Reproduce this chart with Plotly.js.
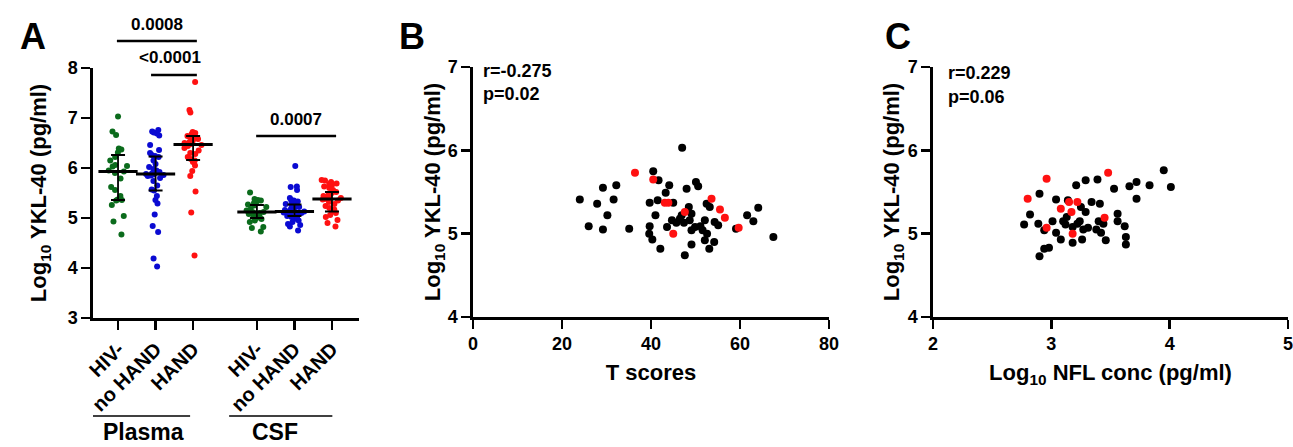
<!DOCTYPE html>
<html>
<head>
<meta charset="utf-8">
<script src="https://cdn.plot.ly/plotly-3.0.1.min.js"></script>
<style>html,body{margin:0;padding:0;background:#fff;}#chart{width:1293px;height:447px;}</style>
</head>
<body>
<div id="chart"></div>
<script>
// ---------------- DATA ----------------
const groupLabels = ['HIV-', 'no HAND', 'HAND', 'HIV-', 'no HAND', 'HAND'];
const sampleLabels = ['Plasma', 'CSF'];

const plasmaHIVneg = [7.03, 6.73, 6.66, 6.39, 6.37, 6.31, 6.22, 6.15, 6.06, 6.04, 6.03, 5.95, 5.93, 5.90, 5.79, 5.62, 5.56, 5.44, 5.37, 5.36, 5.35, 5.26, 5.04, 4.93, 4.67];
const plasmaNoHAND = [6.76, 6.73, 6.71, 6.69, 6.65, 6.46, 6.36, 6.30, 6.26, 6.24, 6.22, 6.15, 6.08, 6.02, 5.98, 5.95, 5.92, 5.90, 5.89, 5.88, 5.87, 5.86, 5.85, 5.84, 5.80, 5.74, 5.65, 5.57, 5.55, 5.44, 5.36, 5.29, 5.07, 4.84, 4.72, 4.19, 4.03];
const plasmaHAND = [7.72, 7.16, 7.11, 6.72, 6.70, 6.68, 6.66, 6.64, 6.62, 6.60, 6.58, 6.55, 6.52, 6.50, 6.48, 6.46, 6.44, 6.40, 6.35, 6.30, 6.28, 6.22, 6.18, 6.15, 6.12, 6.05, 5.94, 5.84, 5.53, 5.11, 4.25];
const csfHIVneg = [5.51, 5.38, 5.36, 5.35, 5.33, 5.30, 5.27, 5.25, 5.22, 5.18, 5.15, 5.12, 5.11, 5.10, 5.08, 5.05, 5.02, 5.00, 4.98, 4.95, 4.92, 4.82, 4.80, 4.73];
const csfNoHAND = [6.04, 5.63, 5.62, 5.56, 5.40, 5.36, 5.35, 5.33, 5.31, 5.30, 5.28, 5.26, 5.24, 5.22, 5.20, 5.18, 5.16, 5.14, 5.13, 5.12, 5.11, 5.10, 5.08, 5.06, 5.04, 5.02, 5.00, 4.98, 4.95, 4.92, 4.88, 4.86, 4.83, 4.75];
const csfHAND = [5.76, 5.75, 5.72, 5.69, 5.68, 5.66, 5.63, 5.60, 5.56, 5.52, 5.50, 5.47, 5.44, 5.42, 5.40, 5.38, 5.37, 5.35, 5.32, 5.28, 5.24, 5.20, 5.17, 5.13, 5.10, 5.06, 5.02, 4.96, 4.90, 4.83];

const groupMedian = [5.93, 5.88, 6.47, 5.12, 5.13, 5.38];
const groupQ1     = [5.36, 5.55, 6.16, 5.00, 5.04, 5.13];
const groupQ3     = [6.26, 6.23, 6.64, 5.26, 5.27, 5.52];

const pValuesA = ['0.0008', '<0.0001', '0.0007'];

// Panel B: T scores vs Log10 YKL-40
const tScoreBlack = [24.0, 26.0, 27.9, 29.2, 29.2, 30.2, 31.6, 32.2, 35.1, 39.7, 39.7, 39.6, 40.3, 40.5, 41.0, 41.7, 41.5, 42.1, 43.3, 44.1, 43.6, 45.0, 44.7, 45.7, 46.5, 47.0, 46.9, 47.4, 48.0, 47.6, 48.5, 48.7, 49.1, 49.1, 49.1, 49.9, 50.1, 50.6, 51.1, 51.6, 52.1, 52.1, 52.5, 52.6, 53.1, 53.2, 54.2, 54.3, 55.1, 59.1, 61.6, 63.0, 64.1, 67.5];
const yklBBlack   = [5.41, 5.09, 5.36, 5.55, 5.05, 5.22, 5.41, 5.58, 5.06, 5.37, 5.09, 5.00, 4.93, 5.75, 5.22, 5.64, 5.40, 4.82, 5.49, 5.58, 5.08, 5.37, 5.16, 5.13, 5.18, 6.03, 5.22, 5.13, 5.54, 4.74, 5.32, 5.16, 5.24, 5.04, 4.87, 5.08, 5.62, 5.57, 5.09, 5.04, 5.16, 4.92, 5.36, 5.00, 4.82, 5.32, 4.90, 5.14, 5.10, 5.06, 5.22, 5.15, 5.31, 4.96];
const tScoreRed = [36.4, 40.5, 43.1, 43.9, 45.0, 47.6, 53.6, 55.5, 56.6, 59.7];
const yklBRed   = [5.73, 5.65, 5.37, 5.37, 5.00, 5.26, 5.42, 5.29, 5.19, 5.07];
const statsB = ['r=-0.275', 'p=0.02'];

// Panel C: Log10 NFL vs Log10 YKL-40
const nflBlack = [2.77, 2.82, 2.90, 2.89, 2.90, 2.94, 2.98, 2.94, 3.01, 3.04, 3.04, 3.08, 3.10, 3.12, 3.14, 3.13, 3.18, 3.18, 3.21, 3.22, 3.24, 3.25, 3.26, 3.27, 3.29, 3.29, 3.31, 3.34, 3.39, 3.38, 3.40, 3.41, 3.42, 3.44, 3.46, 3.53, 3.56, 3.56, 3.62, 3.63, 3.63, 3.66, 3.72, 3.72, 3.83, 3.95, 4.01];
const yklCBlack = [5.11, 5.23, 5.48, 5.12, 4.73, 4.82, 4.83, 5.04, 5.15, 5.41, 5.01, 4.93, 5.15, 5.11, 5.40, 5.20, 4.89, 5.08, 5.58, 5.12, 5.15, 5.32, 4.93, 5.05, 5.64, 5.26, 5.07, 5.38, 5.65, 5.05, 5.15, 5.36, 5.01, 5.12, 4.92, 5.54, 5.24, 5.15, 5.09, 4.96, 4.87, 5.57, 5.62, 5.42, 5.58, 5.76, 5.56];
const nflRed  = [2.80, 2.96, 2.96, 3.08, 3.15, 3.17, 3.22, 3.18, 3.45, 3.48];
const yklCRed = [5.42, 5.66, 5.07, 5.30, 5.38, 5.26, 5.38, 5.00, 5.19, 5.73];
const statsC = ['r=0.229', 'p=0.06'];

// ---------------- LAYOUT HELPERS ----------------
const W = 1293, H = 447;
const fx = p => p / W;
const fy = p => 1 - p / H;
const FONT = 'Liberation Sans, Arial, sans-serif';
const groupPos = [1, 2, 3, 4.7, 5.7, 6.7];
const groupColors = ['#0b6b1c', '#0a0ad2', '#ff1111', '#0b6b1c', '#0a0ad2', '#ff1111'];
const groupData = [plasmaHIVneg, plasmaNoHAND, plasmaHAND, csfHIVneg, csfNoHAND, csfHAND];

const traces = [];
groupData.forEach((vals, i) => {
  traces.push({
    type: 'box', y: vals, x0: groupPos[i], name: groupLabels[i],
    boxpoints: 'all', jitter: 0.95, pointpos: 0, width: 0.62,
    marker: {color: groupColors[i], size: 6},
    line: {color: 'rgba(0,0,0,0)', width: 0}, fillcolor: 'rgba(0,0,0,0)',
    xaxis: 'x', yaxis: 'y', showlegend: false, hoverinfo: 'y'
  });
});
traces.push({
  type: 'scatter', mode: 'markers', x: groupPos, y: groupMedian,
  xaxis: 'x', yaxis: 'y', showlegend: false,
  marker: {symbol: 'line-ew', size: 28, color: '#000', line: {color: '#000', width: 3}},
  error_y: {type: 'data', symmetric: false,
    array: groupQ3.map((q, i) => q - groupMedian[i]),
    arrayminus: groupMedian.map((m, i) => m - groupQ1[i]),
    color: '#000', thickness: 1.8, width: 7}
});
traces.push({type: 'scatter', mode: 'markers', x: tScoreBlack, y: yklBBlack, xaxis: 'x2', yaxis: 'y2', showlegend: false, marker: {color: '#000', size: 8}});
traces.push({type: 'scatter', mode: 'markers', x: tScoreRed, y: yklBRed, xaxis: 'x2', yaxis: 'y2', showlegend: false, marker: {color: '#ff1111', size: 8}});
traces.push({type: 'scatter', mode: 'markers', x: nflBlack, y: yklCBlack, xaxis: 'x3', yaxis: 'y3', showlegend: false, marker: {color: '#000', size: 8}});
traces.push({type: 'scatter', mode: 'markers', x: nflRed, y: yklCRed, xaxis: 'x3', yaxis: 'y3', showlegend: false, marker: {color: '#ff1111', size: 8}});

const tickFont = {family: FONT, size: 18, color: '#000', weight: 700};
const titleFont = {family: FONT, size: 22, color: '#000', weight: 700};
const baseAxis = {
  showgrid: false, zeroline: false, showline: true, linecolor: '#000', linewidth: 2.6,
  ticks: 'outside', ticklen: 9, tickwidth: 2.4, tickcolor: '#000', tickfont: tickFont,
  ticklabeloverflow: 'allow', fixedrange: true
};
const yDomain = [fy(317), fy(67)];
const yTitle = 'Log<sub>10</sub> YKL-40 (pg/ml)';

function ann(text, xref, x, y, size, xanchor, yanchor) {
  return {text: text, xref: xref, yref: 'paper', x: x, y: y, showarrow: false,
    xanchor: xanchor || 'center', yanchor: yanchor || 'middle',
    font: {family: FONT, size: size, color: '#000', weight: 700}};
}

const layout = {
  width: W, height: H, margin: {l: 0, r: 0, t: 0, b: 0},
  paper_bgcolor: '#fff', plot_bgcolor: '#fff', showlegend: false,
  font: {family: FONT, color: '#000', size: 18, weight: 700},
  boxmode: 'overlay',
  xaxis: Object.assign({}, baseAxis, {domain: [fx(93), fx(359)], range: [0.333, 7.42], anchor: 'y',
    tickmode: 'array', tickvals: groupPos, ticktext: groupLabels, tickangle: -45,
    tickfont: {family: FONT, size: 20, color: '#000', weight: 700}}),
  yaxis: Object.assign({}, baseAxis, {domain: [fy(318), fy(68)], range: [3, 8], dtick: 1, anchor: 'x',
    title: {text: yTitle, font: titleFont, standoff: 15}}),
  xaxis2: Object.assign({}, baseAxis, {domain: [fx(473), fx(829)], range: [0, 80], dtick: 20, anchor: 'y2',
    title: {text: 'T scores', font: titleFont, standoff: 12}}),
  yaxis2: Object.assign({}, baseAxis, {domain: yDomain, range: [4, 7], dtick: 1, anchor: 'x2',
    title: {text: yTitle, font: titleFont, standoff: 0}}),
  xaxis3: Object.assign({}, baseAxis, {domain: [fx(933), fx(1288)], range: [2, 5], dtick: 1, anchor: 'y3',
    title: {text: 'Log<sub>10</sub> NFL conc (pg/ml)', font: titleFont, standoff: 12}}),
  yaxis3: Object.assign({}, baseAxis, {domain: yDomain, range: [4, 7], dtick: 1, anchor: 'x3',
    title: {text: yTitle, font: titleFont, standoff: 2}}),
  shapes: [
    // significance bars
    {type: 'line', xref: 'x', yref: 'paper', x0: 0.97, x1: 3.1, y0: fy(41), y1: fy(41), line: {color: '#000', width: 2.6}},
    {type: 'line', xref: 'x', yref: 'paper', x0: 1.88, x1: 3.1, y0: fy(75), y1: fy(75), line: {color: '#000', width: 2.6}},
    {type: 'line', xref: 'x', yref: 'paper', x0: 4.68, x1: 6.81, y0: fy(136), y1: fy(136), line: {color: '#000', width: 2.6}},
    // sample group underlines
    {type: 'line', xref: 'x', yref: 'paper', x0: 0.2, x1: 2.92, y0: fy(416), y1: fy(416), line: {color: '#000', width: 1.5}},
    {type: 'line', xref: 'x', yref: 'paper', x0: 3.96, x1: 6.71, y0: fy(416), y1: fy(416), line: {color: '#000', width: 1.5}}
  ],
  annotations: [
    ann('A', 'paper', fx(33), fy(36), 36),
    ann('B', 'paper', fx(412), fy(36), 36),
    ann('C', 'paper', fx(898), fy(36), 36),
    ann(pValuesA[0], 'x', 2.04, fy(25), 17),
    ann(pValuesA[1], 'x', 2.39, fy(58), 17),
    ann(pValuesA[2], 'x', 5.75, fy(119), 17),
    ann(sampleLabels[0], 'x', 1.67, 0, 23, 'center', 'bottom'),
    ann(sampleLabels[1], 'x', 5.19, 0, 23, 'center', 'bottom'),
    ann(statsB[0], 'paper', fx(481), fy(71), 18, 'left'),
    ann(statsB[1], 'paper', fx(481), fy(94), 18, 'left'),
    ann(statsC[0], 'paper', fx(946), fy(73), 18, 'left'),
    ann(statsC[1], 'paper', fx(946), fy(97), 18, 'left')
  ]
};

Plotly.newPlot('chart', traces, layout, {displayModeBar: false, staticPlot: true});
</script>
</body>
</html>
